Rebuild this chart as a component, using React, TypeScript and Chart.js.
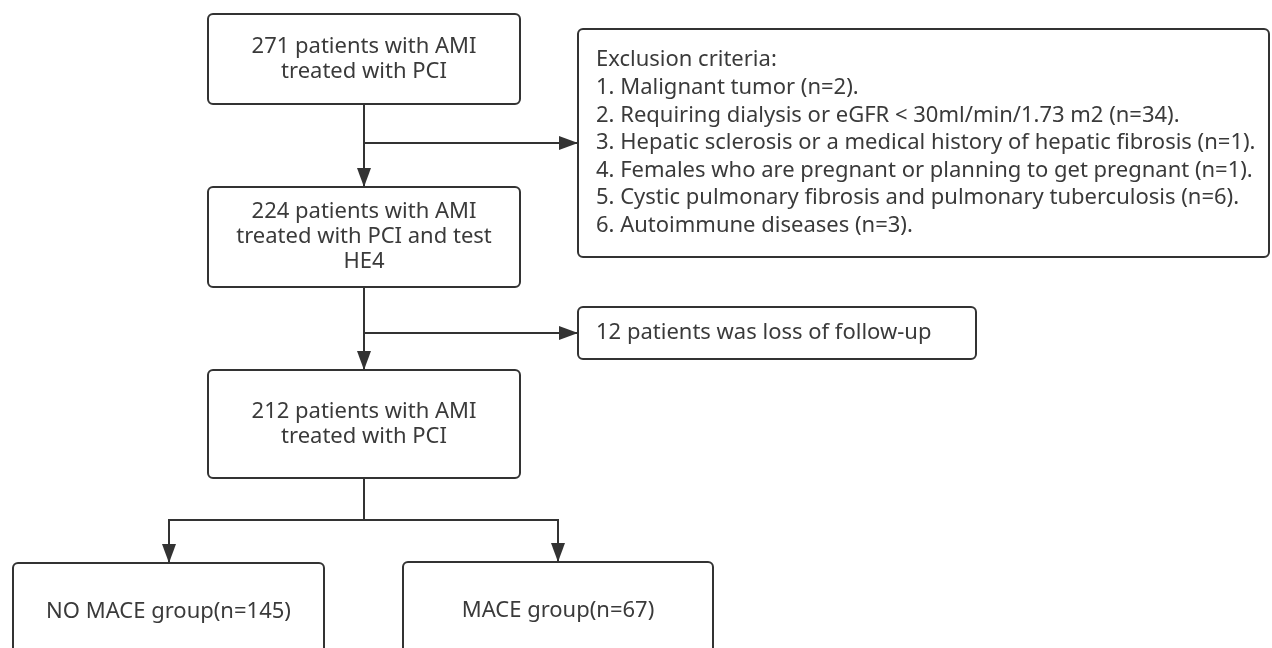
import React, { useEffect, useRef } from "react";
import { Chart, registerables } from "chart.js";

Chart.register(...registerables);

// ---- content ----
const box1Lines = ["271 patients with AMI", "treated with PCI"];
const box2Lines = ["224 patients with AMI", "treated with PCI and test", "HE4"];
const box3Lines = ["212 patients with AMI", "treated with PCI"];
const noMaceLines = ["NO MACE group(n=145)"];
const maceLines = ["MACE group(n=67)"];
const exclusionLines = [
  "Exclusion criteria:",
  "1. Malignant tumor (n=2).",
  "2. Requiring dialysis or eGFR < 30ml/min/1.73 m2 (n=34).",
  "3. Hepatic sclerosis or a medical history of hepatic fibrosis (n=1).",
  "4. Females who are pregnant or planning to get pregnant (n=1).",
  "5. Cystic pulmonary fibrosis and pulmonary tuberculosis (n=6).",
  "6. Autoimmune diseases (n=3).",
];
const lossLines = ["12 patients was loss of follow-up"];

// ---- layout (diagram coordinates, mapped through the chart scales) ----
const W = 1272;
const H = 648;
type Box = { x0: number; y0: number; x1: number; y1: number; lines: string[]; align: "center" | "left"; lh: number };
const boxes: Box[] = [
  { x0: 208, y0: 14, x1: 520, y1: 104, lines: box1Lines, align: "center", lh: 25 },
  { x0: 208, y0: 187, x1: 520, y1: 287, lines: box2Lines, align: "center", lh: 25 },
  { x0: 208, y0: 370, x1: 520, y1: 478, lines: box3Lines, align: "center", lh: 25 },
  { x0: 13, y0: 563, x1: 324, y1: 660, lines: noMaceLines, align: "center", lh: 25 },
  { x0: 403, y0: 562, x1: 713, y1: 660, lines: maceLines, align: "center", lh: 25 },
  { x0: 578, y0: 29, x1: 1269, y1: 257, lines: exclusionLines, align: "left", lh: 27.6 },
  { x0: 578, y0: 307, x1: 976, y1: 359, lines: lossLines, align: "left", lh: 25 },
];
type Edge = { pts: [number, number][]; arrow: boolean };
const edges: Edge[] = [
  { pts: [[364, 104], [364, 187]], arrow: true },
  { pts: [[364, 143], [578, 143]], arrow: true },
  { pts: [[364, 287], [364, 370]], arrow: true },
  { pts: [[364, 333], [578, 333]], arrow: true },
  { pts: [[364, 478], [364, 520]], arrow: false },
  { pts: [[364, 520], [169, 520], [169, 563]], arrow: true },
  { pts: [[364, 520], [558, 520], [558, 562]], arrow: true },
];

const INK = "#333333";
const FONT = '22px "Noto Sans", "Open Sans", sans-serif';

const flowPlugin = {
  id: "flow",
  afterDatasetsDraw(chart: any) {
    const ctx = chart.ctx as CanvasRenderingContext2D;
    const xs = chart.scales.x;
    const ys = chart.scales.y;
    const px = (v: number) => xs.getPixelForValue(v);
    const py = (v: number) => ys.getPixelForValue(v);
    ctx.save();
    // arrowheads
    ctx.fillStyle = INK;
    edges.forEach((e) => {
      if (!e.arrow) return;
      const [ax, ay] = e.pts[e.pts.length - 2];
      const [bx, by] = e.pts[e.pts.length - 1];
      const x1 = px(ax), y1 = py(ay), x2 = px(bx), y2 = py(by);
      const ang = Math.atan2(y2 - y1, x2 - x1);
      const L = 19, Wd = 7;
      ctx.beginPath();
      ctx.moveTo(x2, y2);
      ctx.lineTo(x2 - L * Math.cos(ang) + Wd * Math.sin(ang), y2 - L * Math.sin(ang) - Wd * Math.cos(ang));
      ctx.lineTo(x2 - L * Math.cos(ang) - Wd * Math.sin(ang), y2 - L * Math.sin(ang) + Wd * Math.cos(ang));
      ctx.closePath();
      ctx.fill();
    });
    // boxes
    boxes.forEach((b) => {
      const x0 = px(b.x0), y0 = py(b.y0), x1 = px(b.x1), y1 = py(b.y1);
      ctx.beginPath();
      (ctx as any).roundRect(x0, y0, x1 - x0, y1 - y0, 5);
      ctx.fillStyle = "#ffffff";
      ctx.fill();
      ctx.lineWidth = 2;
      ctx.strokeStyle = INK;
      ctx.stroke();
      ctx.fillStyle = "#3a3a3a";
      ctx.font = FONT;
      ctx.textBaseline = "middle";
      ctx.textAlign = b.align;
      const cy = (y0 + y1) / 2;
      const n = b.lines.length;
      const tx = b.align === "center" ? (x0 + x1) / 2 : x0 + 18;
      b.lines.forEach((t, i) => {
        ctx.fillText(t, tx, cy + (i - (n - 1) / 2) * b.lh);
      });
    });
    ctx.restore();
  },
};

export default function App() {
  const ref = useRef<HTMLCanvasElement | null>(null);
  useEffect(() => {
    document.body.style.margin = "0";
    const canvas = ref.current;
    if (!canvas) return;
    const chart = new Chart(canvas, {
      type: "scatter",
      data: {
        datasets: edges.map((e) => ({
          data: e.pts.map(([x, y]) => ({ x, y })),
          showLine: true,
          borderColor: INK,
          borderWidth: 2,
          pointRadius: 0,
          fill: false,
        })),
      },
      options: {
        animation: false,
        responsive: false,
        maintainAspectRatio: false,
        layout: { padding: 0 },
        events: [],
        plugins: { legend: { display: false }, tooltip: { enabled: false } },
        scales: {
          x: { type: "linear", min: 0, max: W, display: false },
          y: { type: "linear", min: 0, max: H, reverse: true, display: false },
        },
      },
      plugins: [flowPlugin],
    });
    return () => chart.destroy();
  }, []);
  return (
    <div style={{ width: W, height: H, background: "#fff" }}>
      <canvas ref={ref} width={W} height={H} style={{ display: "block" }} />
    </div>
  );
}
